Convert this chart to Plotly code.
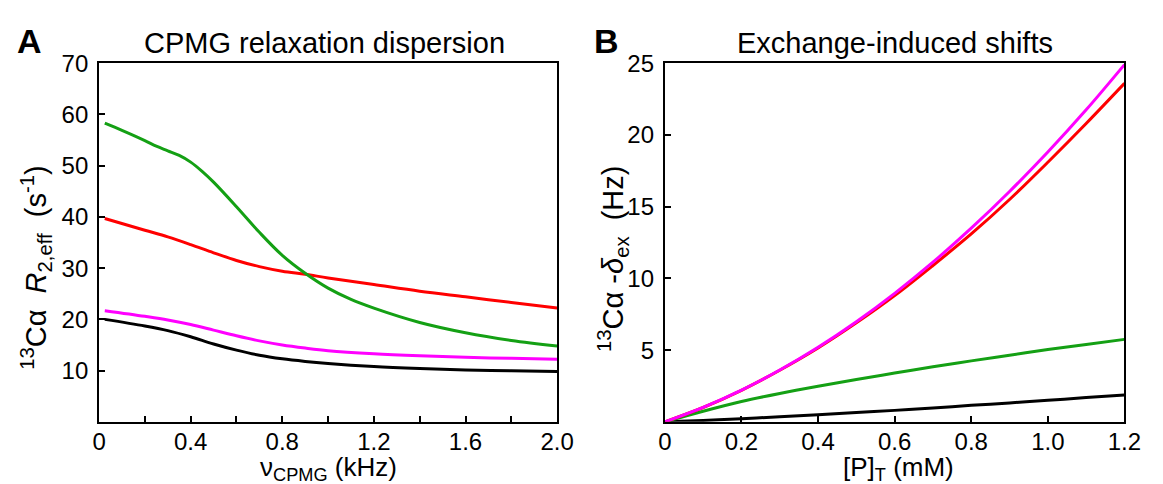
import plotly.graph_objects as go

# ---- Panel A: CPMG relaxation dispersion, R2,eff (s^-1) vs nu_CPMG (kHz) ----
nu_green = [0.025, 0.1, 0.2, 0.25, 0.3, 0.35, 0.4, 0.45, 0.5, 0.6, 0.7, 0.8, 0.9, 1.0, 1.1, 1.2, 1.4, 1.6, 1.8, 2.0]
r2_green = [58.3, 56.9, 54.9, 53.8, 52.9, 52.0, 50.7, 48.9, 46.8, 42.0, 37.0, 32.5, 29.0, 26.1, 23.9, 22.2, 19.4, 17.4, 15.9, 14.8]

nu_other = [0.025, 0.2, 0.3, 0.4, 0.5, 0.6, 0.7, 0.8, 0.9, 1.0, 1.2, 1.4, 1.6, 1.8, 2.0]
r2_red = [39.7, 37.4, 36.1, 34.6, 33.0, 31.5, 30.3, 29.4, 28.8, 28.1, 26.8, 25.5, 24.4, 23.3, 22.2]
r2_magenta = [21.7, 20.6, 19.9, 19.0, 17.9, 16.8, 15.8, 15.0, 14.4, 13.9, 13.3, 12.9, 12.6, 12.4, 12.2]
r2_black = [20.0, 18.7, 17.8, 16.6, 15.2, 14.0, 13.0, 12.3, 11.8, 11.4, 10.8, 10.4, 10.1, 9.95, 9.85]

a_xticks = [0, 0.2, 0.4, 0.6, 0.8, 1.0, 1.2, 1.4, 1.6, 1.8, 2.0]
a_xlabels = ["0", "", "0.4", "", "0.8", "", "1.2", "", "1.6", "", "2.0"]
a_yticks = [10, 20, 30, 40, 50, 60, 70]

# ---- Panel B: exchange-induced shifts (Hz) vs [P]T (mM) ----
p_total = [0, 0.1, 0.2, 0.3, 0.4, 0.5, 0.6, 0.7, 0.8, 0.9, 1.0, 1.1, 1.2]
shift_magenta = [0, 1.01, 2.21, 3.61, 5.20, 6.98, 8.96, 11.13, 13.50, 16.06, 18.81, 21.75, 24.9]
shift_red = [0, 1.0, 2.2, 3.6, 5.15, 6.9, 8.8, 10.9, 13.1, 15.5, 18.1, 20.8, 23.6]
shift_green = [0, 0.74, 1.42, 1.98, 2.48, 2.95, 3.4, 3.84, 4.25, 4.65, 5.04, 5.4, 5.75]
shift_black = [0, 0.1, 0.22, 0.36, 0.5, 0.65, 0.8, 0.97, 1.15, 1.32, 1.5, 1.69, 1.88]

b_xticks = [0, 0.2, 0.4, 0.6, 0.8, 1.0, 1.2]
b_xlabels = ["0", "0.2", "0.4", "0.6", "0.8", "1.0", "1.2"]
b_yticks = [5, 10, 15, 20, 25]

GREEN = "#14a014"
RED = "#ff0000"
MAGENTA = "#ff00ff"
BLACK = "#000000"
FONT = "Liberation Sans, Arial, Helvetica, sans-serif"
W, H = 1163, 484
SP = "\u00a0"

fig = go.Figure()


def add_line(x, y, color, xa, ya):
    fig.add_trace(go.Scatter(
        x=x, y=y, mode="lines", xaxis=xa, yaxis=ya,
        line=dict(color=color, width=3, shape="spline", smoothing=1.0),
        showlegend=False, hoverinfo="skip",
    ))


add_line(nu_other, r2_black, BLACK, "x", "y")
add_line(nu_other, r2_magenta, MAGENTA, "x", "y")
add_line(nu_other, r2_red, RED, "x", "y")
add_line(nu_green, r2_green, GREEN, "x", "y")

add_line(p_total, shift_black, BLACK, "x2", "y2")
add_line(p_total, shift_green, GREEN, "x2", "y2")
add_line(p_total, shift_red, RED, "x2", "y2")
add_line(p_total, shift_magenta, MAGENTA, "x2", "y2")

axis_common = dict(
    showline=True, linecolor="black", linewidth=2, mirror=True,
    ticks="inside", ticklen=6, tickwidth=1.5, tickcolor="black",
    showgrid=False, zeroline=False,
    tickfont=dict(family=FONT, size=24, color="black"),
)

y_top = 1 - 50.7 / H
y_bot = 1 - 420 / H

fig.update_layout(
    width=W, height=H,
    margin=dict(l=0, r=0, t=0, b=0),
    paper_bgcolor="white", plot_bgcolor="white",
    font=dict(family=FONT, color="black"),
    xaxis=dict(domain=[94 / W, 561.7 / W], range=[0, 2.0], ticklabelstandoff=-3,
               tickvals=a_xticks, ticktext=a_xlabels, anchor="y", **axis_common),
    yaxis=dict(domain=[y_bot, y_top], range=[0, 70], ticklabelstandoff=4,
               tickvals=a_yticks, anchor="x", **axis_common),
    xaxis2=dict(domain=[671.7 / W, 1141 / W], range=[0, 1.2], ticklabelstandoff=-3,
                tickvals=b_xticks, ticktext=b_xlabels, anchor="y2", **axis_common),
    yaxis2=dict(domain=[y_bot, y_top], range=[0, 25], ticklabelstandoff=4,
                tickvals=b_yticks, anchor="x2", **axis_common),
)


def px_text(text, x, y, size, angle=0, bold=False):
    fig.add_annotation(
        text=f"<b>{text}</b>" if bold else text,
        xref="paper", yref="paper", x=x / W, y=1 - y / H,
        xanchor="center", yanchor="middle", showarrow=False,
        textangle=angle, font=dict(family=FONT, size=size, color="black"),
    )


# Panel letters and titles
px_text("A", 23, 28, 34, bold=True)
px_text("B", 612, 28, 34, bold=True)
px_text("CPMG relaxation dispersion", 324, 30, 29)
px_text("Exchange-induced shifts", 907, 30, 29)

# Axis titles
px_text("ν<sub>CPMG</sub> (kHz)", 328, 468, 26)
px_text("[P]<sub>T</sub> (mM)", 910, 468, 26)
px_text(f"<sup>13</sup>Cα{SP * 2}<i>R</i><sub>2,eff</sub>{SP * 2}(s<sup>-1</sup>)",
        30, 261, 29, angle=-90)
px_text(f"<sup>13</sup>Cα{SP}-<i>δ</i><sub>ex</sub>{SP * 2}(Hz)", 618, 252, 29, angle=-90)

fig.write_html("out.html")
